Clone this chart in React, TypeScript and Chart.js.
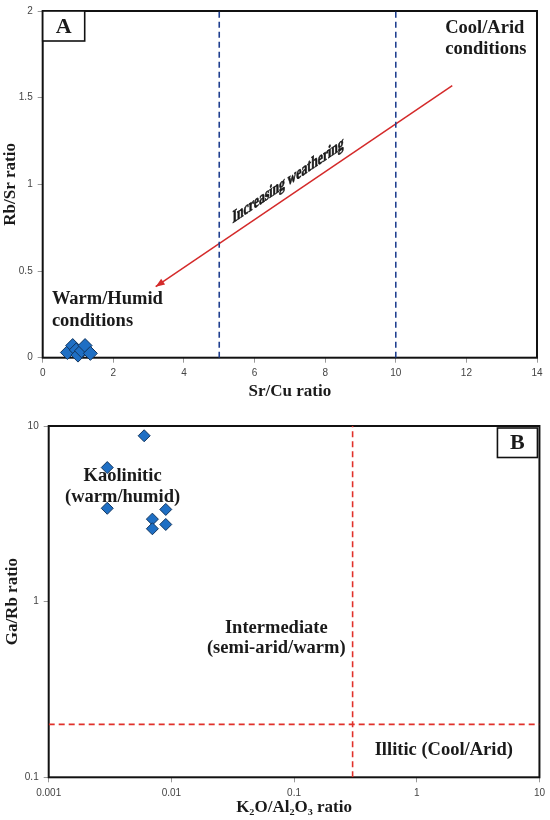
import React, { useEffect, useRef } from "react";
import { Chart, registerables } from "chart.js";

Chart.register(...registerables);

// ---------- Panel A data ----------
const A_SR_CU = [0.7, 0.85, 0.95, 1.0, 1.1, 1.2, 1.35];
const A_RB_SR = [0.03, 0.07, 0.045, 0.015, 0.04, 0.07, 0.025];
const A_X_TICKS = [0, 2, 4, 6, 8, 10, 12, 14];
const A_X_LABELS = ["0", "2", "4", "6", "8", "10", "12", "14"];
const A_Y_TICKS = [0, 0.5, 1, 1.5, 2];
const A_Y_LABELS = ["0", "0.5", "1", "1.5", "2"];
const A_THRESHOLDS = [5, 10];
const A_ARROW_X = [11.6, 3.2];
const A_ARROW_Y = [1.57, 0.41];

// ---------- Panel B data ----------
const B_K2O_AL2O3 = [0.006, 0.003, 0.003, 0.009, 0.007, 0.009, 0.007];
const B_GA_RB = [8.8, 5.8, 3.4, 3.35, 2.95, 2.75, 2.6];
const B_X_TICKS = [0.001, 0.01, 0.1, 1, 10];
const B_X_LABELS = ["0.001", "0.01", "0.1", "1", "10"];
const B_Y_TICKS = [0.1, 1, 10];
const B_Y_LABELS = ["0.1", "1", "10"];
const B_X_THRESHOLD = 0.3;
const B_Y_THRESHOLD = 0.2;

type Label = { text: string; x: number; y: number; align: CanvasTextAlign };

const A_LABELS: Label[] = [
  { text: "Cool/Arid", x: 11.4, y: 1.9, align: "left" },
  { text: "conditions", x: 11.4, y: 1.777, align: "left" },
  { text: "Warm/Humid", x: 0.26, y: 0.336, align: "left" },
  { text: "conditions", x: 0.26, y: 0.212, align: "left" },
];
const A_ARROW_TEXT = { text: "Increasing weathering", x: 6.95, y: 1.02 };

const B_LABELS: Label[] = [
  { text: "Kaolinitic", x: 0.004, y: 5.19, align: "center" },
  { text: "(warm/humid)", x: 0.004, y: 3.91, align: "center" },
  { text: "Intermediate", x: 0.0716, y: 0.71, align: "center" },
  { text: "(semi-arid/warm)", x: 0.0716, y: 0.542, align: "center" },
  { text: "Illitic (Cool/Arid)", x: 1.66, y: 0.143, align: "center" },
];

const SERIF = '"Liberation Serif", "Times New Roman", serif';
const SANS = '"Liberation Sans", Arial, sans-serif';
const TEXT = "#1a1a1a";
const POINT_FILL = "#1f6fc4";
const POINT_EDGE = "#12355e";

function makePlugin(
  letter: string,
  letterSide: "left" | "right",
  labels: Label[],
  arrow: boolean
) {
  return {
    id: "annot" + letter,
    beforeDatasetsDraw(chart: any) {
      const { ctx, chartArea } = chart;
      const { left, top, right, bottom } = chartArea;
      ctx.save();
      ctx.strokeStyle = "#111";
      ctx.lineWidth = 2;
      ctx.strokeRect(left, top, right - left, bottom - top);
      ctx.restore();
    },
    afterDatasetsDraw(chart: any) {
      const { ctx, chartArea, scales } = chart;
      const xs = scales.x;
      const ys = scales.y;
      ctx.save();
      ctx.fillStyle = TEXT;
      ctx.font = `bold 18.5px ${SERIF}`;
      ctx.textBaseline = "middle";
      for (const l of labels) {
        ctx.textAlign = l.align;
        ctx.fillText(l.text, xs.getPixelForValue(l.x), ys.getPixelForValue(l.y));
      }
      if (arrow) {
        const x0 = xs.getPixelForValue(A_ARROW_X[0]);
        const y0 = ys.getPixelForValue(A_ARROW_Y[0]);
        const x1 = xs.getPixelForValue(A_ARROW_X[1]);
        const y1 = ys.getPixelForValue(A_ARROW_Y[1]);
        const len = Math.hypot(x1 - x0, y1 - y0);
        const dx = (x1 - x0) / len;
        const dy = (y1 - y0) / len;
        ctx.fillStyle = "#d42a2a";
        ctx.beginPath();
        ctx.moveTo(x1, y1);
        ctx.lineTo(x1 - dx * 9 - dy * 3.5, y1 - dy * 9 + dx * 3.5);
        ctx.lineTo(x1 - dx * 9 + dy * 3.5, y1 - dy * 9 - dx * 3.5);
        ctx.closePath();
        ctx.fill();
        // skewed (upright glyphs) label along the arrow
        const slope = (y0 - y1) / (x0 - x1);
        const sx = 0.65;
        ctx.translate(xs.getPixelForValue(A_ARROW_TEXT.x), ys.getPixelForValue(A_ARROW_TEXT.y));
        ctx.transform(sx, slope * sx, 0, 1, 0, 0);
        ctx.fillStyle = TEXT;
        ctx.strokeStyle = TEXT;
        ctx.lineWidth = 0.7;
        ctx.font = `bold 18px ${SERIF}`;
        ctx.textAlign = "center";
        ctx.fillText(A_ARROW_TEXT.text, 0, 0);
        ctx.strokeText(A_ARROW_TEXT.text, 0, 0);
        ctx.setTransform(1, 0, 0, 1, 0, 0);
      }
      ctx.restore();
      // letter box
      ctx.save();
      const w = letterSide === "left" ? 42 : 40;
      const h = letterSide === "left" ? 30 : 29.5;
      const bx = letterSide === "left" ? chartArea.left : chartArea.right - 2 - w;
      const by = letterSide === "left" ? chartArea.top : chartArea.top + 2;
      ctx.fillStyle = "#fff";
      ctx.fillRect(bx, by, w, h);
      ctx.strokeStyle = "#111";
      ctx.lineWidth = 1.6;
      ctx.strokeRect(bx, by, w, h);
      ctx.fillStyle = TEXT;
      ctx.font = `bold 22px ${SERIF}`;
      ctx.textAlign = "center";
      ctx.textBaseline = "middle";
      ctx.fillText(letter, bx + w / 2, by + h / 2 + 1);
      ctx.restore();
    },
  };
}

function axisCommon(labels: string[], values: number[], size: number, isX: boolean) {
  return {
    afterBuildTicks: (s: any) => {
      s.ticks = values.map((v) => ({ value: v }));
    },
    afterFit: (s: any) => {
      if (isX) s.height = size;
      else s.width = size;
    },
    ticks: {
      callback: (_v: any, i: number) => labels[i] ?? "",
      font: { family: SANS, size: 10 },
      color: "#444",
      padding: 5,
      autoSkip: false,
      maxRotation: 0,
    },
    grid: { drawOnChartArea: false, tickLength: 5, color: "#999", lineWidth: 1 },
    border: { display: false },
  };
}

function titleOpt(text: string, pad: any) {
  return {
    display: true,
    text,
    color: TEXT,
    font: { family: SERIF, size: 17, weight: "bold" as const, lineHeight: 1 },
    padding: pad,
  };
}

function configA(): any {
  return {
    type: "scatter",
    data: {
      datasets: [
        {
          data: A_SR_CU.map((x, i) => ({ x, y: A_RB_SR[i] })),
          pointStyle: "rectRot",
          pointRadius: 7,
          backgroundColor: POINT_FILL,
          borderColor: POINT_EDGE,
          borderWidth: 1,
          clip: false,
        },
        ...A_THRESHOLDS.map((v) => ({
          data: [
            { x: v, y: 0 },
            { x: v, y: 2 },
          ],
          showLine: true,
          borderColor: "#1f3f8f",
          borderDash: [6, 4],
          borderWidth: 1.6,
          pointRadius: 0,
        })),
        {
          data: A_ARROW_X.map((x, i) => ({ x, y: A_ARROW_Y[i] })),
          showLine: true,
          borderColor: "#d42a2a",
          borderWidth: 1.5,
          pointRadius: 0,
        },
      ],
    },
    options: {
      responsive: false,
      animation: false,
      layout: { padding: { top: 8, right: 13, left: 0, bottom: 0 } },
      plugins: { legend: { display: false }, tooltip: { enabled: false } },
      scales: {
        x: {
          type: "linear",
          min: 0,
          max: 14,
          ...axisCommon(A_X_LABELS, A_X_TICKS, 44.3, true),
          title: titleOpt("Sr/Cu ratio", { top: 0, bottom: 1.5 }),
        },
        y: {
          type: "linear",
          min: 0,
          max: 2,
          ...axisCommon(A_Y_LABELS, A_Y_TICKS, 42.7, false),
          title: titleOpt("Rb/Sr ratio", { top: 2.5, bottom: 0 }),
        },
      },
    },
    plugins: [makePlugin("A", "left", A_LABELS, true)],
  };
}

function configB(): any {
  return {
    type: "scatter",
    data: {
      datasets: [
        {
          data: B_K2O_AL2O3.map((x, i) => ({ x, y: B_GA_RB[i] })),
          pointStyle: "rectRot",
          pointRadius: 6,
          backgroundColor: POINT_FILL,
          borderColor: POINT_EDGE,
          borderWidth: 1,
          clip: false,
        },
        {
          data: [
            { x: B_X_THRESHOLD, y: 0.1 },
            { x: B_X_THRESHOLD, y: 10 },
          ],
          showLine: true,
          borderColor: "#e0302a",
          borderDash: [6, 4],
          borderWidth: 1.6,
          pointRadius: 0,
        },
        {
          data: [
            { x: 0.001, y: B_Y_THRESHOLD },
            { x: 10, y: B_Y_THRESHOLD },
          ],
          showLine: true,
          borderColor: "#e0302a",
          borderDash: [6, 4],
          borderWidth: 1.6,
          pointRadius: 0,
        },
      ],
    },
    options: {
      responsive: false,
      animation: false,
      layout: { padding: { top: 24, right: 10, left: 0, bottom: 0 } },
      plugins: { legend: { display: false }, tooltip: { enabled: false } },
      scales: {
        x: {
          type: "logarithmic",
          min: 0.001,
          max: 10,
          ...axisCommon(B_X_LABELS, B_X_TICKS, 42.7, true),
          title: titleOpt("K\u2082O/Al\u2082O\u2083 ratio", { top: 0, bottom: 4.2 }),
        },
        y: {
          type: "logarithmic",
          min: 0.1,
          max: 10,
          ...axisCommon(B_Y_LABELS, B_Y_TICKS, 48.7, false),
          title: titleOpt("Ga/Rb ratio", { top: 4.5, bottom: 0 }),
        },
      },
    },
    plugins: [makePlugin("B", "right", B_LABELS, false)],
  };
}

export default function App() {
  const refA = useRef<HTMLCanvasElement>(null);
  const refB = useRef<HTMLCanvasElement>(null);
  useEffect(() => {
    const a = new Chart(refA.current as HTMLCanvasElement, configA());
    const b = new Chart(refB.current as HTMLCanvasElement, configB());
    return () => {
      a.destroy();
      b.destroy();
    };
  }, []);
  return (
    <div
      style={{
        position: "absolute",
        left: 0,
        top: 0,
        width: 550,
        height: 820,
        background: "#fff",
      }}
    >
      <canvas ref={refA} width={550} height={402} style={{ display: "block" }} />
      <canvas ref={refB} width={550} height={418} style={{ display: "block" }} />
    </div>
  );
}
